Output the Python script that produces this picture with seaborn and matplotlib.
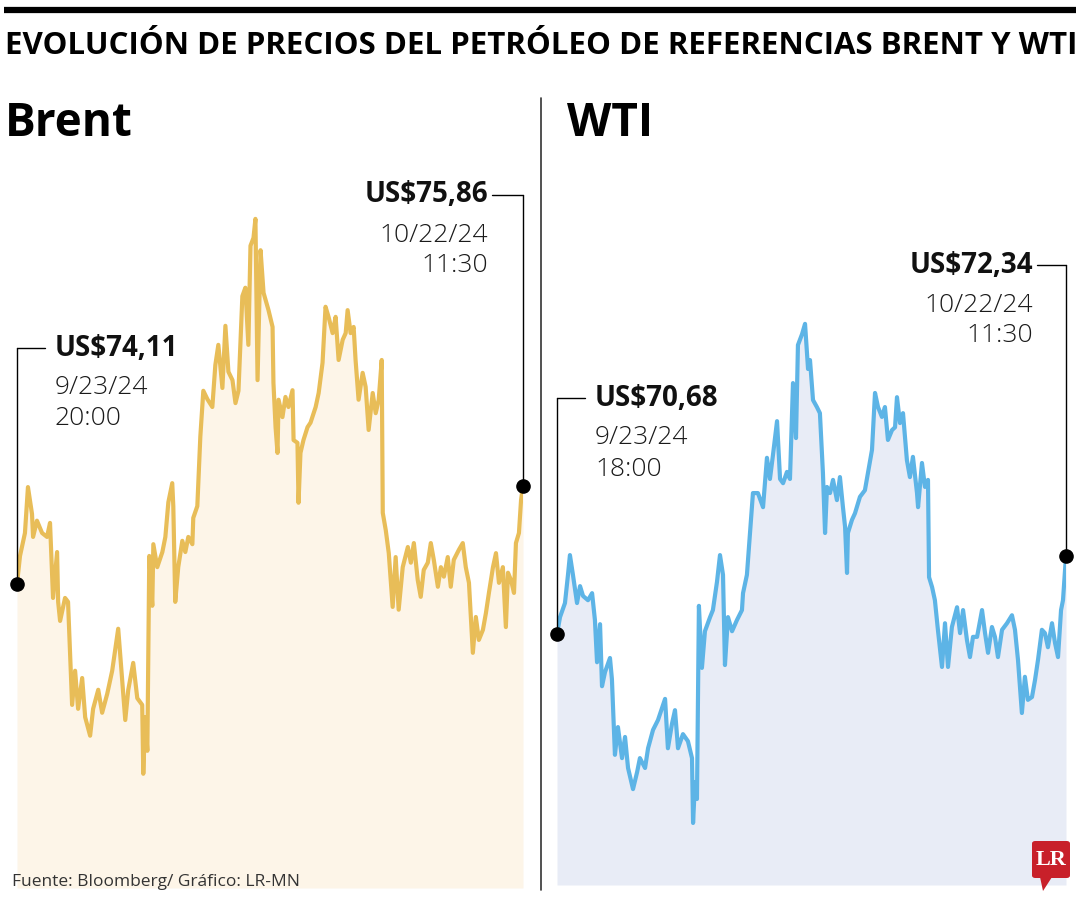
import matplotlib
matplotlib.use("Agg")
import matplotlib.pyplot as plt
import seaborn as sns
import pandas as pd
from matplotlib.lines import Line2D
from matplotlib.patches import FancyBboxPatch, Polygon

# ---------------- data ----------------
titulo = "EVOLUCIÓN DE PRECIOS DEL PETRÓLEO DE REFERENCIAS BRENT Y WTI"
fuente = "Fuente: Bloomberg/ Gráfico: LR-MN"

brent_dias = [0.00,0.17,0.45,0.62,0.85,0.91,1.13,1.42,1.70,1.87,2.04,2.27,2.33,2.44,2.72,2.89,3.12,3.29,3.46,3.69,
              3.86,4.14,4.31,4.60,4.82,5.11,5.39,5.73,5.96,6.13,6.30,6.58,6.81,7.09,7.15,7.26,7.38,7.49,7.66,7.72,
              7.94,8.23,8.40,8.57,8.79,8.85,8.96,9.13,9.36,9.53,9.70,9.93,9.98,10.21,10.38,10.55,10.78,11.06,11.23,11.40,
              11.63,11.80,11.97,12.20,12.37,12.54,12.76,12.93,13.10,13.22,13.39,13.50,13.62,13.79,13.96,14.24,14.47,14.52,14.64,14.75,
              14.81,15.03,15.20,15.37,15.60,15.66,15.88,15.94,16.05,16.22,16.45,16.62,16.91,17.08,17.30,17.47,17.64,17.87,18.04,18.21,
              18.44,18.61,18.72,18.89,19.06,19.17,19.34,19.57,19.74,19.91,20.14,20.31,20.48,20.65,20.71,20.88,21.05,21.27,21.44,21.61,
              21.84,22.13,22.30,22.47,22.69,22.86,23.03,23.26,23.43,23.60,23.83,24.00,24.17,24.39,24.56,24.73,25.02,25.24,25.41,25.59,
              25.70,25.81,25.98,26.15,26.38,26.55,26.72,26.95,27.12,27.29,27.51,27.68,27.80,27.97,28.14,28.25,28.42,28.54,28.65]
brent_precio = [74.11,74.61,75.02,75.84,75.36,74.95,75.24,75.02,74.95,75.20,
                73.86,74.68,73.79,73.45,73.86,73.79,71.95,72.56,71.88,72.43,
                71.73,71.40,71.88,72.22,71.81,72.15,72.56,73.31,72.36,71.68,
                72.22,72.70,72.07,71.95,70.72,71.73,71.13,74.61,73.72,74.82,
                74.41,74.68,74.95,75.57,75.91,75.50,73.79,74.41,74.88,74.68,
                74.95,74.82,75.29,75.50,76.74,77.56,77.41,77.27,78.02,78.38,
                77.61,78.72,77.90,77.75,77.34,77.56,79.25,79.40,78.38,80.15,
                80.29,80.63,77.75,80.07,79.31,79.00,78.70,77.70,76.91,76.45,
                77.40,77.09,77.45,77.27,77.57,76.68,76.63,75.56,76.45,76.68,
                76.91,76.99,77.27,77.52,78.06,79.06,78.88,78.59,78.88,78.11,
                78.47,78.59,79.00,78.59,78.70,78.11,77.40,77.88,77.63,76.86,
                77.52,77.16,77.40,78.11,75.38,75.07,74.66,73.70,74.59,73.65,
                74.41,74.77,74.49,74.84,74.18,73.88,74.36,74.49,74.84,74.54,
                74.06,74.41,74.24,74.59,74.06,74.54,74.72,74.84,74.41,74.13,
                73.52,72.88,73.52,73.11,73.29,73.59,73.95,74.41,74.66,74.13,
                74.41,73.34,74.31,74.18,73.95,74.84,75.02,75.61,75.86]
brent_fechas = ["9/23/24\n20:00", "10/22/24\n11:30"]

wti_dias = [0.00,0.17,0.45,0.62,0.73,0.90,1.13,1.30,1.47,1.75,1.98,2.14,2.26,2.43,2.54,2.71,2.99,3.10,3.27,3.44,
            3.67,3.84,4.01,4.29,4.52,4.68,4.97,5.14,5.42,5.70,6.10,6.26,6.49,6.66,6.83,7.11,7.39,7.62,7.68,7.79,
            7.90,8.01,8.18,8.35,8.64,8.80,9.03,9.20,9.37,9.48,9.65,9.88,10.16,10.44,10.50,10.72,10.89,11.06,11.34,11.63,
            11.85,12.02,12.19,12.42,12.59,12.76,12.98,13.15,13.32,13.49,13.60,13.83,14.00,14.17,14.28,14.45,14.67,14.84,15.01,15.13,
            15.24,15.41,15.58,15.80,15.97,16.14,16.26,16.37,16.42,16.65,16.82,17.10,17.38,17.55,17.78,17.95,18.12,18.34,18.51,18.68,
            18.91,19.08,19.19,19.36,19.53,19.75,19.92,20.09,20.32,20.38,20.60,20.77,20.94,21.00,21.17,21.33,21.50,21.73,21.90,22.07,
            22.29,22.58,22.75,22.92,23.14,23.31,23.48,23.71,23.99,24.16,24.33,24.55,24.72,24.89,25.12,25.40,25.68,25.85,26.02,26.24,
            26.41,26.58,26.81,26.98,27.15,27.37,27.54,27.71,27.94,28.11,28.28,28.45,28.56,28.73]
wti_precio = [70.68,71.04,71.34,71.94,72.36,71.94,71.34,71.70,71.49,71.40,
              71.55,70.98,70.08,70.89,69.57,69.87,70.17,69.72,68.11,68.70,
              68.04,68.49,67.83,67.38,67.74,68.04,67.83,68.25,68.64,68.85,
              69.30,68.25,68.77,69.06,68.25,68.55,68.40,68.04,66.66,67.53,
              67.17,71.28,69.96,70.74,71.04,71.19,71.79,72.36,71.94,70.02,
              71.04,70.74,70.98,71.19,71.55,71.94,72.81,73.68,73.68,73.38,
              74.43,73.98,74.49,75.21,73.98,73.89,74.13,73.98,76.02,74.85,
              76.83,77.06,77.28,76.32,76.51,75.66,75.51,75.38,74.11,72.83,
              73.81,73.68,73.96,73.53,74.02,73.38,72.96,71.98,72.83,73.11,
              73.25,73.60,73.74,74.11,74.60,75.81,75.51,75.30,75.51,74.81,
              75.02,75.08,75.72,75.17,75.38,74.38,74.02,74.45,73.68,73.38,
              74.32,73.81,73.96,71.89,71.68,71.40,70.77,69.98,70.91,69.98,
              70.83,71.25,70.70,71.19,70.55,70.19,70.62,70.62,71.19,70.70,
              70.28,70.83,70.62,70.19,70.77,70.91,71.08,70.77,70.13,69.00,
              69.77,69.28,69.34,69.70,70.13,70.77,70.70,70.40,70.91,70.49,
              70.19,71.19,71.40,72.34]
wti_fechas = ["9/23/24\n18:00", "10/22/24\n11:30"]

# ---------------- style ----------------
sns.set_theme(style="white")
plt.rcParams['font.family'] = ['Open Sans', 'DejaVu Sans']

W, H = 1080, 900
fig = plt.figure(figsize=(W / 100, H / 100), dpi=100)
fig.patch.set_facecolor("white")


def F(x, y):
    return (x / W, 1 - y / H)


def make_ax(left, right, top, bottom):
    return fig.add_axes([left / W, 1 - bottom / H, (right - left) / W, (bottom - top) / H])


def fmt(v):
    return "US$" + f"{v:.2f}".replace(".", ",")


panels = [
    dict(ax=make_ax(17, 523, 150, 888), dias=brent_dias, precio=brent_precio, fechas=brent_fechas,
         line="#E8BD58", fill="#FDF5E8", ylim=(68.68, 81.86), nombre="Brent", name_x=5,
         start=dict(y=348, hx=45, tx=55), end=dict(y=195, hx=492, tx=488)),
    dict(ax=make_ax(557, 1066, 150, 885), dias=wti_dias, precio=wti_precio, fechas=wti_fechas,
         line="#5DB4E6", fill="#E8ECF6", ylim=(65.34, 80.98), nombre="WTI", name_x=567,
         start=dict(y=398, hx=585, tx=595), end=dict(y=265, hx=1037, tx=1033)),
]

for p in panels:
    ax = p["ax"]
    df = pd.DataFrame({"dia": p["dias"], "precio": p["precio"]})
    ax.fill_between(df["dia"], df["precio"], p["ylim"][0], color=p["fill"], lw=0, zorder=1)
    sns.lineplot(data=df, x="dia", y="precio", ax=ax, color=p["line"], lw=3.0,
                 estimator=None, sort=False, zorder=3)
    ax.set_xlim(df["dia"].iloc[0], df["dia"].iloc[-1])
    ax.set_ylim(*p["ylim"])
    ax.axis("off")
    # end points
    for idx in (0, -1):
        ax.plot(df["dia"].iloc[idx], df["precio"].iloc[idx], "o", color="black",
                ms=9.5, clip_on=False, zorder=6)

    # heading
    fig.text(*F(p["name_x"], 124), p["nombre"], ha="left", va="center",
             fontsize=33, fontweight="bold", color="black")

    # annotations
    for idx, key, ha in ((0, "start", "left"), (-1, "end", "right")):
        a = p[key]
        dx, dy = ax.transData.transform((df["dia"].iloc[idx], df["precio"].iloc[idx]))
        fx, fyd = dx / W, dy / H
        _, fyl = F(0, a["y"])
        fig.add_artist(Line2D([fx, fx], [fyd, fyl], color="black", lw=1.0, zorder=5))
        fig.add_artist(Line2D([fx, a["hx"] / W], [fyl, fyl], color="black", lw=1.0, zorder=5))
        fig.text(*F(a["tx"], a["y"]), fmt(df["precio"].iloc[idx]), ha=ha, va="center",
                 fontsize=20, fontweight="bold", color="#111111")
        l1, l2 = p["fechas"][0 if idx == 0 else 1].split("\n")
        fig.text(*F(a["tx"], a["y"] + 40), l1, ha=ha, va="center",
                 fontsize=19, fontweight="light", color="#1a1a1a")
        fig.text(*F(a["tx"], a["y"] + 71), l2, ha=ha, va="center",
                 fontsize=19, fontweight="light", color="#1a1a1a")

# top rule
fig.add_artist(Line2D([4 / W, 1076 / W], [1 - 10 / H] * 2, color="black", lw=4.5, solid_capstyle="butt"))

# title, fitted to width
t = fig.text(*F(5, 46), titulo, ha="left", va="center", fontsize=22, fontweight="bold", color="black")
r = fig.canvas.get_renderer()
bw = t.get_window_extent(r).width
t.set_fontsize(22 * 1070 / bw)

# divider
fig.add_artist(Line2D([541 / W] * 2, [1 - 98 / H, 1 - 890 / H], color="#333333", lw=1.2))

# source
fig.text(*F(12, 882), fuente, ha="left", va="center", fontsize=12.5, color="#333333")

# LR logo
logo = FancyBboxPatch((1032 / W, 1 - 878 / H), 38 / W, 37 / H,
                      boxstyle="round,pad=0,rounding_size=0.003", transform=fig.transFigure,
                      facecolor="#C8202A", edgecolor="none")
fig.add_artist(logo)
fig.add_artist(Polygon([F(1040, 877), F(1052, 877), F(1043, 891)], closed=True,
                       transform=fig.transFigure, facecolor="#C8202A", edgecolor="none"))
fig.text(*F(1051, 860), "LR", ha="center", va="center", fontsize=16, fontweight="bold",
         color="white", family=["Liberation Serif", "DejaVu Serif"])

fig.savefig("out.png", dpi=100, facecolor="white")
